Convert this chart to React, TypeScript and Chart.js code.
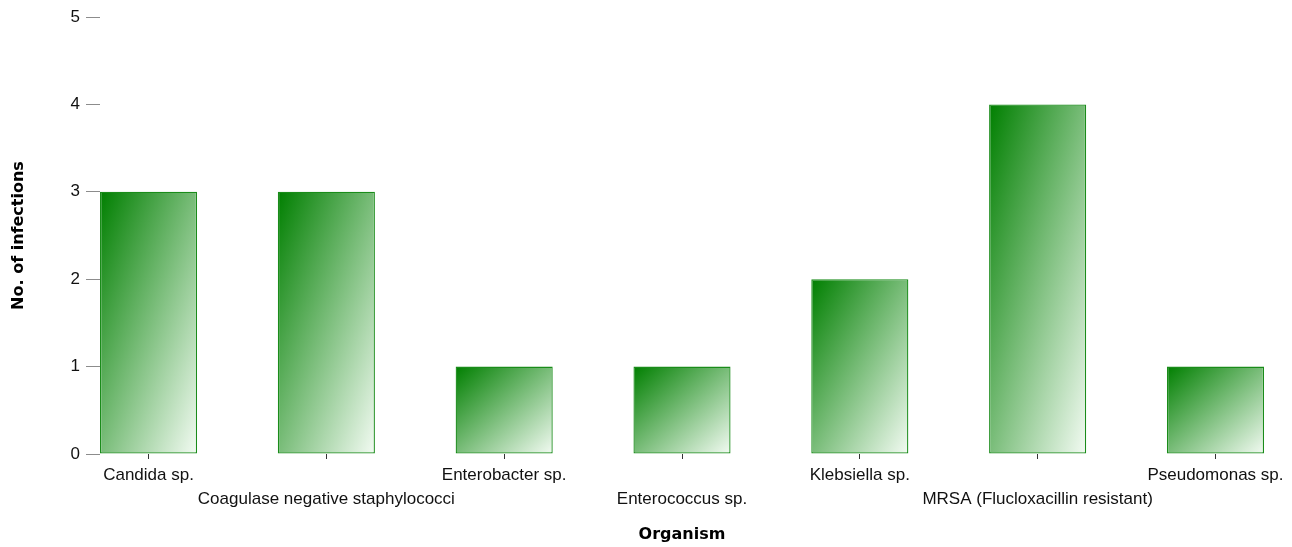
import { useEffect, useRef } from "react";
import { Chart, registerables } from "chart.js";

Chart.register(...registerables);

const categories = [
  "Candida sp.",
  "Coagulase negative staphylococci",
  "Enterobacter sp.",
  "Enterococcus sp.",
  "Klebsiella sp.",
  "MRSA (Flucloxacillin resistant)",
  "Pseudomonas sp.",
];
const infections = [3, 3, 1, 1, 2, 4, 1];
const yTicks = [0, 1, 2, 3, 4, 5];
const xAxisTitle = "Organism";
const yAxisTitle = "No. of infections";

const BAR_FRACTION = 0.546;
const EDGE = BAR_FRACTION / 2;

function barGradient(ctx: any): any {
  const chart = ctx.chart;
  const xs = chart.scales && chart.scales.x;
  const ys = chart.scales && chart.scales.y;
  const fallback = "#4aa84a";
  if (!xs || !ys || !chart.chartArea) return fallback;
  const raw = ctx.raw;
  if (!raw) return fallback;
  const cx = xs.getPixelForValue(raw.x);
  const w = (xs.getPixelForValue(1) - xs.getPixelForValue(0)) * BAR_FRACTION;
  const x0 = cx - w / 2;
  const y0 = ys.getPixelForValue(raw.y);
  const h = ys.getPixelForValue(0) - y0;
  if (!(w > 0) || !(h > 0) || !isFinite(x0)) return fallback;
  const k = (2 * w * h) / (w * w + h * h);
  const g = chart.ctx.createLinearGradient(x0, y0, x0 + h * k, y0 + w * k);
  g.addColorStop(0, "#007f00");
  g.addColorStop(1, "#f3fbf3");
  return g;
}

export default function App() {
  const ref = useRef<HTMLCanvasElement | null>(null);

  useEffect(() => {
    if (!ref.current) return;
    const chart = new Chart(ref.current, {
      type: "bar",
      data: {
        datasets: [
          {
            label: yAxisTitle,
            data: infections.map((v, i) => ({ x: i, y: v })),
            backgroundColor: barGradient,
            borderColor: "#1a8c1a",
            borderWidth: 1.3,
            borderSkipped: false,
            inflateAmount: 0,
            barPercentage: BAR_FRACTION,
            categoryPercentage: 1,
          },
        ],
      },
      options: {
        animation: false,
        responsive: false,
        devicePixelRatio: 1,
        layout: { padding: { top: 17, right: 28, left: 0, bottom: 0 } },
        plugins: {
          legend: { display: false },
          tooltip: { enabled: false },
        },
        scales: {
          x: {
            type: "linear",
            offset: false,
            min: -EDGE,
            max: categories.length - 1 + EDGE,
            afterBuildTicks: (axis: any) => {
              axis.ticks = categories.map((_, i) => ({ value: i }));
            },
            afterFit: (axis: any) => {
              axis.height = 93;
            },
            border: { display: false },
            grid: {
              display: true,
              offset: false,
              drawOnChartArea: false,
              drawTicks: true,
              tickLength: 5,
              color: "#333333",
              lineWidth: 1,
            },
            ticks: {
              autoSkip: false,
              maxRotation: 0,
              minRotation: 0,
              padding: 4,
              color: "#111111",
              font: { family: "'Liberation Sans', Arial, sans-serif", size: 17, lineHeight: 24 / 17 },
              callback: (value: any) => {
                const idx = Math.round(Number(value));
                const label = categories[idx] ?? "";
                return idx % 2 === 0 ? [label] : ["", label];
              },
            },
            title: {
              display: true,
              text: xAxisTitle,
              color: "#000000",
              font: { family: "'DejaVu Sans', sans-serif", size: 16, weight: "bold" },
              padding: { top: 0, bottom: 3 },
            },
          },
          y: {
            min: 0,
            max: 5,
            afterBuildTicks: (axis: any) => {
              axis.ticks = yTicks.map((v) => ({ value: v }));
            },
            afterFit: (axis: any) => {
              axis.width = 100;
            },
            border: { display: false },
            grid: {
              display: true,
              drawOnChartArea: false,
              drawTicks: true,
              tickLength: 14,
              color: "#8c8c8c",
              lineWidth: 1,
            },
            ticks: {
              padding: 6,
              color: "#111111",
              font: { family: "'Liberation Sans', Arial, sans-serif", size: 17 },
            },
            title: {
              display: true,
              text: yAxisTitle,
              color: "#000000",
              font: { family: "'DejaVu Sans', sans-serif", size: 16, weight: "bold" },
              padding: { top: 9, bottom: 0 },
            },
          },
        },
      } as any,
    });
    return () => chart.destroy();
  }, []);

  return (
    <div style={{ position: "fixed", left: 0, top: 0, width: 1292, height: 547, background: "#ffffff" }}>
      <canvas ref={ref} width={1292} height={547} style={{ display: "block", width: 1292, height: 547 }} />
    </div>
  );
}
